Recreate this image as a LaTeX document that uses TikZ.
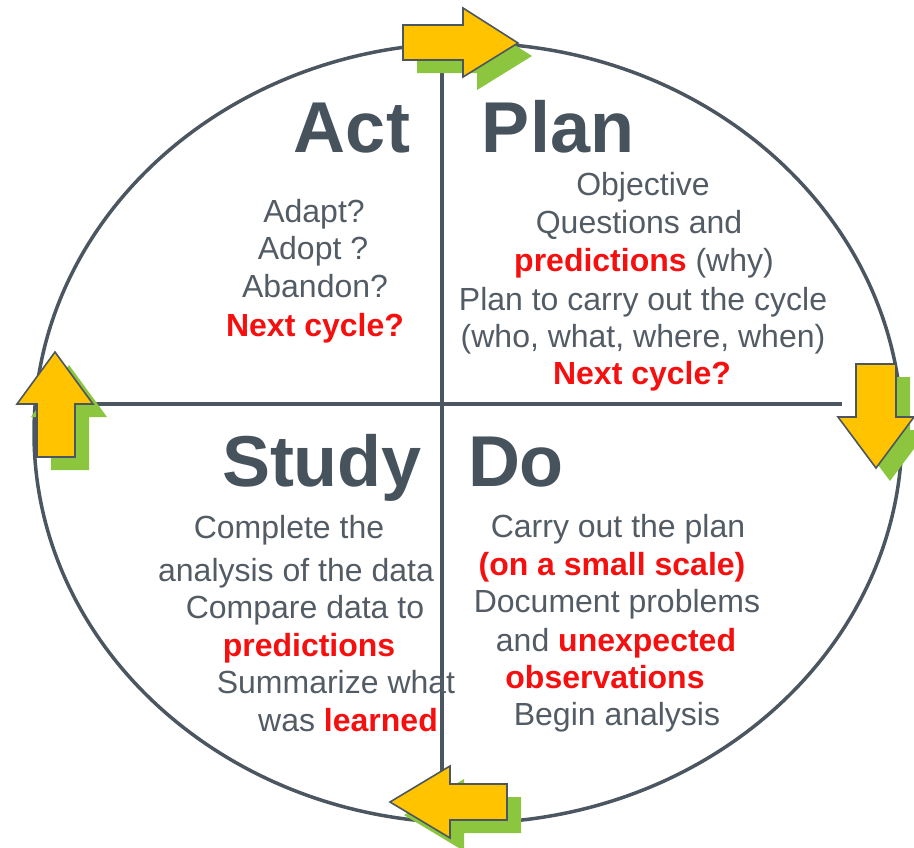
\documentclass[tikz,border=0pt]{standalone}
\usepackage{fontspec}
\setmainfont{Liberation Sans}
\begin{document}
\definecolor{ringcol}{HTML}{4B5660}
\definecolor{titlecol}{HTML}{46525C}
\definecolor{bodycol}{HTML}{535C65}
\definecolor{hotred}{HTML}{F50F0F}
\definecolor{arrowfill}{HTML}{FFC300}
\definecolor{arrowshade}{HTML}{8CC63E}
\newcommand{\hot}[1]{{\bfseries\color{hotred}#1}}
\begin{tikzpicture}[x=1pt,y=-1pt,
  ring/.style={draw=ringcol,line width=3.5pt},
  title/.style={anchor=base,inner sep=0pt,text=titlecol,font=\fontsize{72}{80}\selectfont\bfseries},
  body/.style={anchor=base,inner sep=0pt,text=bodycol,font=\fontsize{32}{38}\selectfont},
  arrowbody/.style={fill=arrowfill,draw=ringcol,line width=1.6pt,line join=miter},
  arrowshadow/.style={fill=arrowshade,draw=none,shift={(14,13)}}]
\useasboundingbox (0,0) rectangle (914,847);

% cycle outline and quadrant dividers
\draw[ring] (468,433) ellipse [x radius=434, y radius=390];
\coordinate (hl) at (34,404);
\coordinate (hr) at (842,404);
\coordinate (vt) at (442,60);
\coordinate (vb) at (442,790);
\draw[ring] (hl) -- (hr);
\draw[ring] (vt) -- (vb);

% block arrows on the ring: shadows first, then the arrows
% top, pointing right
\fill[arrowshadow] (403,25) -- (463,25) -- (463,8) -- (518,43) -- (463,77) -- (463,60) -- (403,60) -- cycle;
% right, pointing down
\fill[arrowshadow] (856,364) -- (896,364) -- (896,417) -- (914,417) -- (876,468) -- (838,417) -- (856,417) -- cycle;
% left, pointing up
\fill[arrowshadow] (37,457) -- (37,404) -- (17,404) -- (55,352) -- (93,404) -- (75,404) -- (75,457) -- cycle;
% bottom, pointing left
\fill[arrowshadow] (507,784) -- (450,784) -- (450,766) -- (390,802) -- (450,838) -- (450,820) -- (507,820) -- cycle;

\draw[arrowbody] (403,25) -- (463,25) -- (463,8) -- (518,43) -- (463,77) -- (463,60) -- (403,60) -- cycle;
\draw[arrowbody] (856,364) -- (896,364) -- (896,417) -- (914,417) -- (876,468) -- (838,417) -- (856,417) -- cycle;
\draw[arrowbody] (37,457) -- (37,404) -- (17,404) -- (55,352) -- (93,404) -- (75,404) -- (75,457) -- cycle;
\draw[arrowbody] (507,784) -- (450,784) -- (450,766) -- (390,802) -- (450,838) -- (450,820) -- (507,820) -- cycle;

% quadrant titles
\node[title] (act) at (352,152) {Act};
\node[title] (plan) at (558,152) {Plan};
\node[title] (study) at (322,486) {Study};
\node[title] (do) at (516,486) {Do};

% Act
\node[body] (act1) at (314,222) {Adapt?};
\node[body] (act2) at (313,259) {Adopt ?};
\node[body] (act3) at (315,297) {Abandon?};
\node[body] (act4) at (315,336) {\hot{Next cycle?}};

% Plan
\node[body] (plan1) at (643,195) {Objective};
\node[body] (plan2) at (639,233) {Questions and};
\node[body] (plan3) at (644,271) {\hot{predictions} (why)};
\node[body] (plan4) at (643,310) {Plan to carry out the cycle};
\node[body] (plan5) at (643,347) {(who, what, where, when)};
\node[body] (plan6) at (642,384) {\hot{Next cycle?}};

% Study
\node[body] (study1) at (289,538) {Complete the};
\node[body] (study2) at (296,581) {analysis of the data};
\node[body] (study3) at (305,618) {Compare data to};
\node[body] (study4) at (309,656) {\hot{predictions}};
\node[body] (study5) at (336,693) {Summarize what};
\node[body] (study6) at (348,731) {was \hot{learned}};

% Do
\node[body] (do1) at (618,537) {Carry out the plan};
\node[body] (do2) at (612,575) {\hot{(on a small scale)}};
\node[body] (do3) at (617,612) {Document problems};
\node[body] (do4) at (616,651) {and \hot{unexpected}};
\node[body] (do5) at (605,688) {\hot{observations}};
\node[body] (do6) at (617,725) {Begin analysis};
\end{tikzpicture}
\end{document}
